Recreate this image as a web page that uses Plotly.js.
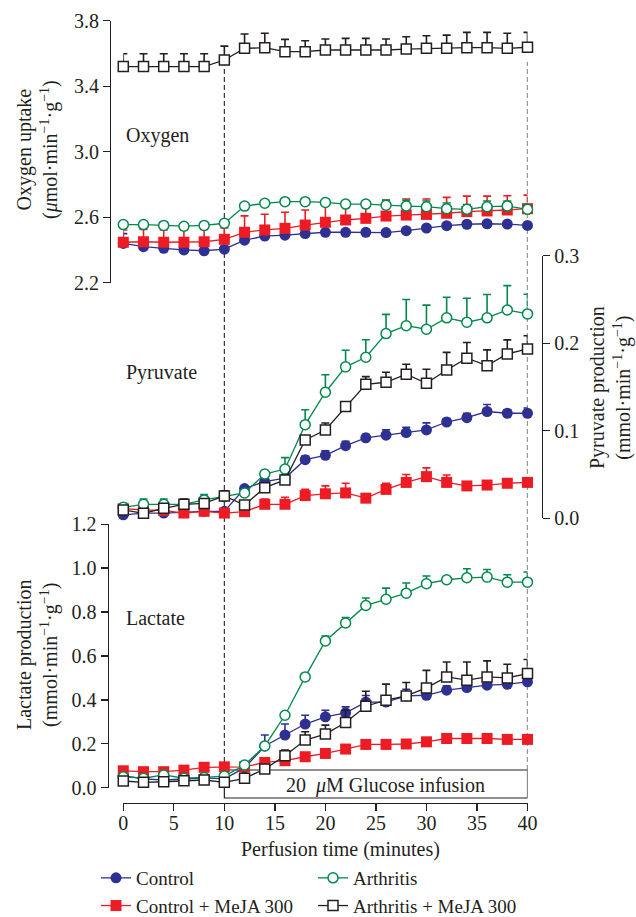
<!DOCTYPE html>
<html>
<head>
<meta charset="utf-8">
<script src="https://cdn.plot.ly/plotly-3.0.1.min.js"></script>
<style>html,body{margin:0;padding:0;background:#fff;}#chart{width:636px;height:917px;}</style>
</head>
<body>
<div id="chart"></div>
<script>
// ---- data ----
var minutes = [0,2,4,6,8,10,12,14,16,18,20,22,24,26,28,30,32,34,36,38,40];
var seriesNames = ["Control", "Arthritis", "Control + MeJA 300", "Arthritis + MeJA 300"];

// Oxygen uptake (µmol·min-1·g-1)
var oxyControl      = [2.44,2.42,2.41,2.40,2.395,2.405,2.46,2.485,2.49,2.50,2.508,2.508,2.508,2.506,2.518,2.534,2.548,2.557,2.56,2.558,2.55];
var oxyControlErr   = [0.06,0.01,0.01,0.01,0.01,0.01,0.01,0.01,0.01,0.01,0.01,0.01,0.01,0.01,0.01,0.01,0.01,0.01,0.01,0.01,0.01];
var oxyArth         = [2.555,2.555,2.55,2.545,2.55,2.563,2.668,2.685,2.695,2.695,2.69,2.68,2.68,2.673,2.668,2.664,2.652,2.648,2.664,2.668,2.648];
var oxyArthErr      = [0,0,0,0,0,0,0,0,0,0,0,0,0,0.03,0.035,0.035,0.035,0.03,0.035,0.03,0.032];
var oxyCtrlMe       = [2.447,2.45,2.447,2.447,2.45,2.465,2.508,2.522,2.532,2.552,2.569,2.583,2.593,2.607,2.613,2.617,2.624,2.634,2.638,2.644,2.652];
var oxyCtrlMeErr    = [0.075,0.075,0.075,0.075,0.075,0.07,0.10,0.096,0.098,0.092,0.11,0.10,0.09,0.098,0.098,0.094,0.097,0.095,0.091,0.087,0.083];
var oxyArthMe       = [3.52,3.52,3.52,3.52,3.52,3.56,3.631,3.635,3.611,3.611,3.621,3.621,3.621,3.621,3.627,3.631,3.631,3.635,3.635,3.631,3.638];
var oxyArthMeErr    = [0.078,0.078,0.078,0.078,0.078,0.085,0.088,0.088,0.075,0.067,0.067,0.071,0.071,0.067,0.075,0.077,0.081,0.094,0.094,0.092,0.091];

// Pyruvate production (mmol·min-1·g-1)
var pyrControl      = [0.004,0.006,0.006,0.007,0.008,0.008,0.034,0.042,0.046,0.067,0.072,0.083,0.092,0.095,0.098,0.101,0.110,0.115,0.122,0.120,0.120];
var pyrControlErr   = [0,0,0,0,0,0,0,0,0,0.004,0.005,0.005,0.004,0.006,0.006,0.008,0.004,0.005,0.008,0.004,0.006];
var pyrArth         = [0.0126,0.016,0.016,0.016,0.021,0.0247,0.029,0.0506,0.0563,0.107,0.144,0.173,0.184,0.211,0.220,0.216,0.229,0.224,0.229,0.238,0.2335];
var pyrArthErr      = [0.0045,0.006,0.006,0.004,0.006,0.003,0.003,0.004,0.013,0.017,0.02,0.019,0.02,0.022,0.03,0.0275,0.0235,0.0274,0.0267,0.0278,0.0225];
var pyrCtrlMe       = [0.011,0.0095,0.009,0.006,0.008,0.006,0.0076,0.016,0.016,0.026,0.028,0.029,0.023,0.033,0.041,0.0476,0.041,0.037,0.038,0.040,0.041];
var pyrCtrlMeErr    = [0,0,0,0,0,0,0,0.006,0.008,0.007,0.009,0.011,0.003,0.007,0.009,0.010,0.0084,0.002,0.002,0.002,0.002];
var pyrArthMe       = [0.0095,0.0057,0.0114,0.016,0.017,0.0255,0.0152,0.035,0.0438,0.0895,0.1009,0.1276,0.1531,0.1554,0.1646,0.1543,0.1695,0.1829,0.1744,0.1878,0.1935];
var pyrArthMeErr    = [0.002,0.002,0.005,0.006,0.005,0.006,0.002,0.004,0.0045,0.004,0.008,0.005,0.0087,0.0115,0.0114,0.016,0.020,0.018,0.018,0.016,0.015];

// Lactate production (mmol·min-1·g-1)
var lacControl      = [0.055,0.04,0.035,0.04,0.045,0.04,0.09,0.19,0.24,0.29,0.323,0.341,0.39,0.39,0.418,0.421,0.444,0.456,0.467,0.471,0.482];
var lacControlErr   = [0.005,0,0,0,0,0,0,0.05,0.05,0.04,0.03,0.027,0.03,0.01,0.03,0.01,0.02,0.01,0.01,0.01,0.01];
var lacArth         = [0.05,0.043,0.058,0.043,0.047,0.053,0.103,0.19,0.33,0.5045,0.668,0.75,0.83,0.858,0.886,0.929,0.947,0.956,0.959,0.936,0.936];
var lacArthErr      = [0,0,0,0,0,0,0,0,0,0,0.023,0.025,0.034,0.051,0.046,0.035,0.01,0.041,0.035,0.034,0.046];
var lacCtrlMe       = [0.077,0.073,0.073,0.080,0.093,0.095,0.095,0.115,0.123,0.141,0.156,0.176,0.197,0.197,0.199,0.209,0.224,0.224,0.224,0.22,0.22];
var lacCtrlMeErr    = [0.005,0.005,0.005,0.005,0.005,0.005,0.005,0.005,0.005,0.005,0.005,0.005,0.005,0.005,0.005,0.005,0.005,0.005,0.005,0.005,0.005];
var lacArthMe       = [0.0305,0.0245,0.027,0.032,0.035,0.0245,0.0427,0.085,0.1455,0.2168,0.244,0.297,0.371,0.3986,0.418,0.4545,0.5045,0.4895,0.5045,0.50,0.52];
var lacArthMeErr    = [0,0,0,0,0,0,0,0.005,0.026,0.038,0.041,0.056,0.068,0.073,0.061,0.08,0.068,0.083,0.073,0.062,0.064];

var oxyTicks = [2.2, 2.6, 3.0, 3.4, 3.8];
var pyrTicks = [0.0, 0.1, 0.2, 0.3];
var lacTicks = [0.0, 0.2, 0.4, 0.6, 0.8, 1.0, 1.2];
var timeTicks = [0, 5, 10, 15, 20, 25, 30, 35, 40];

// ---- styling ----
var FONT = "Liberation Serif, Times New Roman, serif";
var INK = "#231F20";
var C_BLUE = "#2E3192", C_RED = "#ED1C24", C_GREEN = "#00894B", C_BLACK = "#231F20";

var styles = [
  {name: seriesNames[0], color: C_BLUE,  symbol: "circle", open: false, rank: 1},
  {name: seriesNames[2], color: C_RED,   symbol: "square", open: false, rank: 3},
  {name: seriesNames[1], color: C_GREEN, symbol: "circle", open: true,  rank: 2},
  {name: seriesNames[3], color: C_BLACK, symbol: "square", open: true,  rank: 4}
];
var panels = [
  {axis: "y",  vals: [oxyControl, oxyCtrlMe, oxyArth, oxyArthMe], errs: [oxyControlErr, oxyCtrlMeErr, oxyArthErr, oxyArthMeErr]},
  {axis: "y2", vals: [pyrControl, pyrCtrlMe, pyrArth, pyrArthMe], errs: [pyrControlErr, pyrCtrlMeErr, pyrArthErr, pyrArthMeErr]},
  {axis: "y3", vals: [lacControl, lacCtrlMe, lacArth, lacArthMe], errs: [lacControlErr, lacCtrlMeErr, lacArthErr, lacArthMeErr]}
];

var traces = [];
panels.forEach(function(p, pi){
  styles.forEach(function(s, si){
    traces.push({
      type: "scatter", mode: "lines+markers",
      x: minutes, y: p.vals[si],
      xaxis: "x", yaxis: p.axis,
      name: s.name, showlegend: pi === 0, legendrank: s.rank,
      cliponaxis: false,
      line: {color: s.color, width: 1.3},
      marker: {symbol: s.symbol, size: s.open ? 10 : 11, color: s.open ? "#ffffff" : s.color,
               line: {color: s.color, width: s.open ? 1.5 : 0}},
      error_y: {type: "data", symmetric: false, array: p.errs[si], arrayminus: minutes.map(function(){return 0;}),
                color: s.color, thickness: 1.6, width: 4}
    });
  });
});

// plot area: x 100..542 px, y 20..803 px
function py(pix){ return (803 - pix) / 783; }
function px(pix){ return (pix - 100) / 442; }

var axisBase = {showgrid: false, zeroline: false, showline: true, linecolor: INK, linewidth: 1.3,
                ticks: "outside", ticklen: 7, tickwidth: 1.3, tickcolor: INK, automargin: false,
                tickfont: {family: FONT, size: 20, color: INK}, fixedrange: true};

var layout = {
  width: 636, height: 917,
  margin: {l: 100, r: 94, t: 20, b: 114, autoexpand: false},
  paper_bgcolor: "#ffffff", plot_bgcolor: "rgba(0,0,0,0)",
  font: {family: FONT, size: 20, color: INK},
  showlegend: true,
  legend: {orientation: "h", x: px(96), xanchor: "left", y: py(859), yanchor: "top",
           font: {family: FONT, size: 19, color: INK}, entrywidth: 172, traceorder: "normal",
           bgcolor: "rgba(0,0,0,0)", itemclick: false},
  xaxis: Object.assign({}, axisBase, {domain: [px(123.3), px(527.5)], range: [0, 40], anchor: "free", position: 0,
           tickvals: timeTicks, ticklabelstandoff: -5}),
  yaxis: Object.assign({}, axisBase, {domain: [py(282.7), py(20.7)], range: [2.2, 3.8], anchor: "free", position: px(110),
           tickvals: oxyTicks, tickformat: ".1f"}),
  yaxis2: Object.assign({}, axisBase, {domain: [py(518.3), py(255.7)], range: [0, 0.3], anchor: "free", position: 1, side: "right",
           tickvals: pyrTicks, tickformat: ".1f"}),
  yaxis3: Object.assign({}, axisBase, {domain: [py(787.7), py(524.2)], range: [0, 1.2], anchor: "free", position: px(107.5),
           tickvals: lacTicks, tickformat: ".1f"}),
  shapes: [
    {type: "line", xref: "x", yref: "paper", x0: 10, x1: 10, y0: py(770), y1: py(62), layer: "below",
     line: {color: "#333", width: 1.2, dash: "5px,3px"}},
    {type: "line", xref: "x", yref: "paper", x0: 40, x1: 40, y0: py(770), y1: py(62), layer: "below",
     line: {color: "#333", width: 1.2, dash: "5px,3px"}},
    {type: "rect", xref: "x", yref: "paper", x0: 10, x1: 40, y0: py(798), y1: py(770), layer: "below",
     line: {color: INK, width: 1.2}, fillcolor: "#ffffff"}
  ],
  annotations: [
    {text: "Oxygen", xref: "paper", yref: "paper", x: px(124), y: py(135), xanchor: "left", yanchor: "middle", showarrow: false, font: {size: 20}},
    {text: "Pyruvate", xref: "paper", yref: "paper", x: px(124), y: py(372), xanchor: "left", yanchor: "middle", showarrow: false, font: {size: 20}},
    {text: "Lactate", xref: "paper", yref: "paper", x: px(124), y: py(618), xanchor: "left", yanchor: "middle", showarrow: false, font: {size: 20}},
    {text: "Oxygen uptake<br>(<i>μ</i>mol·min<sup>−1</sup>·g<sup>−1</sup>)", xref: "paper", yref: "paper",
     x: px(37), y: py(150), xanchor: "center", yanchor: "middle", textangle: -90, showarrow: false, font: {size: 20}},
    {text: "Lactate production<br>(mmol·min<sup>−1</sup>·g<sup>−1</sup>)", xref: "paper", yref: "paper",
     x: px(37), y: py(655), xanchor: "center", yanchor: "middle", textangle: -90, showarrow: false, font: {size: 20}},
    {text: "Pyruvate production<br>(mmol·min<sup>−1</sup>·g<sup>−1</sup>)", xref: "paper", yref: "paper",
     x: px(610), y: py(388), xanchor: "center", yanchor: "middle", textangle: -90, showarrow: false, font: {size: 20}},
    {text: "Perfusion time (minutes)", xref: "paper", yref: "paper", x: px(340), y: py(849), xanchor: "center", yanchor: "middle", showarrow: false, font: {size: 20}},
    {text: "20  <i>μ</i>M Glucose infusion", xref: "paper", yref: "paper", x: px(385), y: py(785.5), xanchor: "center", yanchor: "middle", showarrow: false, font: {size: 20}}
  ]
};

Plotly.newPlot("chart", traces, layout, {staticPlot: true, displayModeBar: false});
</script>
</body>
</html>
